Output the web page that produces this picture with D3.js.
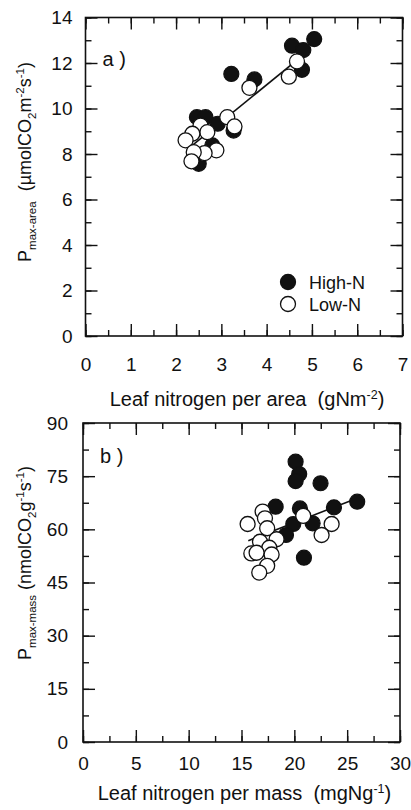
<!DOCTYPE html>
<html>
<head>
<meta charset="utf-8">
<script src="https://cdn.jsdelivr.net/npm/d3@7"></script>
<style>
  body { margin: 0; background: #fff; }
  svg { display: block; }
  text { font-family: "Liberation Sans", Arial, Helvetica, sans-serif; fill: #111; white-space: pre; }
  .domain { display: none; }
  .tick line { stroke: #111; stroke-width: 1.4; }
</style>
</head>
<body>
<div id="chart"></div>
<script>
// panel a: Pmax-area vs leaf N per area
var highA = [[5.05,13.05],[4.56,12.76],[4.81,12.57],[4.78,11.70],[3.22,11.52],[3.73,11.28],
             [2.46,9.62],[2.65,9.62],[2.92,9.33],[3.27,9.03],[2.80,8.38],[2.50,7.57]];
var lowA  = [[4.67,12.07],[4.49,11.40],[3.62,10.91],[3.13,9.62],[3.29,9.21],[2.54,9.25],
             [2.69,8.96],[2.36,8.89],[2.21,8.60],[2.89,8.16],[2.63,8.04],[2.39,8.08],[2.34,7.68]];
var fitA  = [[2.25,8.2],[4.9,12.5]];

// panel b: Pmax-mass vs leaf N per mass
var highB = [[20.12,79.1],[20.46,75.6],[20.12,73.6],[22.48,73.0],[18.23,66.4],[20.53,65.9],
             [25.95,67.8],[23.75,66.2],[19.90,61.5],[21.73,61.7],[19.21,58.4],[20.91,52.0]];
var lowB  = [[17.0,65.0],[17.22,63.1],[15.58,61.5],[17.43,60.3],[20.84,63.8],[23.53,61.5],
             [22.58,58.4],[18.32,57.2],[16.75,56.5],[17.63,54.8],[15.93,53.2],[16.43,53.4],
             [17.85,52.9],[17.43,49.7],[16.68,47.8]];
var fitB  = [[15.64,56.8],[25.95,68.8]];

var xTicksA = [0,1,2,3,4,5,6,7], yTicksA = [0,2,4,6,8,10,12,14];
var xTicksB = [0,5,10,15,20,25,30], yTicksB = [0,15,30,45,60,75,90];

var W = 411, H = 810, R = 7.5;

var svg = d3.select("#chart").append("svg")
    .attr("width", W)
    .attr("height", H);

function panel(cfg) {
  var x = d3.scaleLinear().domain(cfg.xDom).range([cfg.left, cfg.right]),
      y = d3.scaleLinear().domain(cfg.yDom).range([cfg.bottom, cfg.top]);
  var g = svg.append("g");

  var xMinor = d3.range(cfg.xDom[0], cfg.xDom[1] + 1e-9, cfg.xStep / 2),
      yMinor = d3.range(cfg.yDom[0], cfg.yDom[1] + 1e-9, cfg.yStep / 2);

  // minor ticks, all four sides, pointing in
  g.append("g").attr("transform", "translate(0," + cfg.bottom + ")")
      .call(d3.axisBottom(x).tickValues(xMinor).tickSize(-6).tickFormat(""));
  g.append("g").attr("transform", "translate(0," + cfg.top + ")")
      .call(d3.axisTop(x).tickValues(xMinor).tickSize(-6).tickFormat(""));
  g.append("g").attr("transform", "translate(" + cfg.left + ",0)")
      .call(d3.axisLeft(y).tickValues(yMinor).tickSize(-6).tickFormat(""));
  g.append("g").attr("transform", "translate(" + cfg.right + ",0)")
      .call(d3.axisRight(y).tickValues(yMinor).tickSize(-6).tickFormat(""));

  // major ticks with labels
  var xa = g.append("g").attr("transform", "translate(0," + cfg.bottom + ")")
      .call(d3.axisBottom(x).tickValues(cfg.xTicks).tickSize(-12).tickPadding(cfg.xPad)
              .tickFormat(d3.format("d")));
  var ya = g.append("g").attr("transform", "translate(" + cfg.left + ",0)")
      .call(d3.axisLeft(y).tickValues(cfg.yTicks).tickSize(-12).tickPadding(cfg.yPad)
              .tickFormat(d3.format("d")));
  g.append("g").attr("transform", "translate(0," + cfg.top + ")")
      .call(d3.axisTop(x).tickValues(cfg.xTicks).tickSize(-12).tickFormat(""));
  g.append("g").attr("transform", "translate(" + cfg.right + ",0)")
      .call(d3.axisRight(y).tickValues(cfg.yTicks).tickSize(-12).tickFormat(""));
  xa.selectAll("text").style("font-size", "19px").attr("fill", "#111");
  ya.selectAll("text").style("font-size", "19px").attr("fill", "#111");

  // frame
  g.append("rect")
      .attr("x", cfg.left).attr("y", cfg.top)
      .attr("width", cfg.right - cfg.left).attr("height", cfg.bottom - cfg.top)
      .attr("fill", "none").attr("stroke", "#111").attr("stroke-width", 1.6);

  // regression line
  g.append("path")
      .datum(cfg.fit)
      .attr("d", d3.line().x(function(d) { return x(d[0]); }).y(function(d) { return y(d[1]); }))
      .attr("stroke", "#111").attr("stroke-width", 1.6).attr("fill", "none");

  // points: filled first, open on top
  g.selectAll(".hi").data(cfg.high).enter().append("circle")
      .attr("class", "hi")
      .attr("cx", function(d) { return x(d[0]); })
      .attr("cy", function(d) { return y(d[1]); })
      .attr("r", R).attr("fill", "#111").attr("stroke", "#111").attr("stroke-width", 1.2);
  g.selectAll(".lo").data(cfg.low).enter().append("circle")
      .attr("class", "lo")
      .attr("cx", function(d) { return x(d[0]); })
      .attr("cy", function(d) { return y(d[1]); })
      .attr("r", R).attr("fill", "#fff").attr("stroke", "#111").attr("stroke-width", 1.3);

  // panel letter
  g.append("text").attr("x", cfg.left + 17).attr("y", cfg.top + cfg.letterDy)
      .style("font-size", "20px").text(cfg.letter);

  // x title
  var xt = g.append("text")
      .attr("x", (cfg.left + cfg.right) / 2 + 3).attr("y", cfg.xTitleY)
      .attr("text-anchor", "middle").style("font-size", "20px");
  xt.append("tspan").text(cfg.xTitle[0]);
  xt.append("tspan").attr("dy", -7).style("font-size", "12.5px").text(cfg.xTitle[1]);
  xt.append("tspan").attr("dy", 7).text(")");

  // y title, rotated, pieces: [text, "n"|"sub"|"sup"]
  var yt = g.append("text")
      .attr("transform", "translate(" + cfg.yTitleX + "," + cfg.yTitleY + ") rotate(-90)")
      .attr("text-anchor", "middle").style("font-size", "18px");
  var shift = 0;
  cfg.yTitle.forEach(function(p) {
    var target = p[1] == "sub" ? 5 : (p[1] == "sup" ? -7 : 0);
    yt.append("tspan")
        .attr("dy", target - shift)
        .style("font-size", p[1] == "n" ? "18px" : "11.5px")
        .text(p[0]);
    shift = target;
  });
}

panel({
  left: 85.5, right: 402.5, top: 17.5, bottom: 336,
  xDom: [0, 7], yDom: [0, 14], xStep: 1, yStep: 2,
  xTicks: xTicksA, yTicks: yTicksA, xPad: 22, yPad: 13,
  high: highA, low: lowA, fit: fitA,
  letter: "a )", letterDy: 48,
  xTitle: ["Leaf nitrogen per area  (gNm", "-2"], xTitleY: 406,
  yTitle: [["P","n"],["max-area","sub"],["  (µmolCO","n"],["2","sub"],["m","n"],["-2","sup"],
           ["s","n"],["-1","sup"],[")","n"]],
  yTitleX: 31, yTitleY: 162
});

panel({
  left: 83, right: 400, top: 423, bottom: 742,
  xDom: [0, 30], yDom: [0, 90], xStep: 5, yStep: 15,
  xTicks: xTicksB, yTicks: yTicksB, xPad: 15, yPad: 15,
  high: highB, low: lowB, fit: fitB,
  letter: "b )", letterDy: 40,
  xTitle: ["Leaf nitrogen per mass  (mgNg", "-1"], xTitleY: 800,
  yTitle: [["P","n"],["max-mass","sub"],[" (nmolCO","n"],["2","sub"],["g","n"],["-1","sup"],
           ["s","n"],["-1","sup"],[")","n"]],
  yTitleX: 31, yTitleY: 563
});

// legend in panel a
var legend = [["High-N", "#111"], ["Low-N", "#fff"]];
var lg = svg.append("g").attr("transform", "translate(288,282)");
lg.selectAll("circle").data(legend).enter().append("circle")
    .attr("cx", 0).attr("cy", function(d, i) { return i * 22; })
    .attr("r", R).attr("fill", function(d) { return d[1]; })
    .attr("stroke", "#111").attr("stroke-width", 1.3);
lg.selectAll("text").data(legend).enter().append("text")
    .attr("x", 21).attr("y", function(d, i) { return i * 22 + 6.5; })
    .style("font-size", "18px")
    .text(function(d) { return d[0]; });
</script>
</body>
</html>
